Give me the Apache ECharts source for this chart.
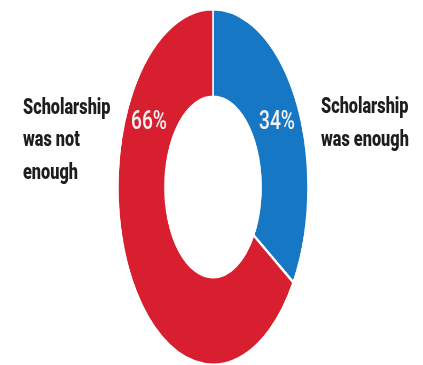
<!DOCTYPE html>
<html>
<head>
<meta charset="utf-8">
<script src="https://cdn.jsdelivr.net/npm/echarts@6/dist/echarts.min.js"></script>
<style>
  html, body { margin: 0; padding: 0; background: #ffffff; }
  #wrap { position: relative; width: 423px; height: 365px; overflow: hidden; }
  #ring { position: absolute; left: 0; top: 0; height: 365px; transform-origin: 0 0; }
  #labels { position: absolute; left: 0; top: 0; width: 423px; height: 365px; pointer-events: none; }
</style>
</head>
<body>
<div id="wrap">
  <div id="ring"></div>
  <div id="labels"></div>
</div>
<script>
// Survey answers, clockwise from 12 o'clock
const categories = ['Scholarship was enough', 'Scholarship was not enough'];
const values = [34, 66];
const categoryLines = [
  ['Scholarship', 'was enough'],
  ['Scholarship', 'was not', 'enough']
];

// The ring is drawn as an ellipse: the pie canvas is squeezed horizontally.
const SQUEEZE = 0.534;
const W = 423, H = 365;
const COLORS = ['#1677c4', '#d71f2f'];

const ringEl = document.getElementById('ring');
ringEl.style.width = (W / SQUEEZE) + 'px';
ringEl.style.transform = 'scaleX(' + SQUEEZE + ')';

const ring = echarts.init(ringEl, null, { renderer: 'canvas' });
ring.setOption({
  animation: false,
  backgroundColor: '#ffffff',
  series: [{
    type: 'pie',
    silent: true,
    center: [213 / SQUEEZE, 187],
    radius: [90, 178],
    startAngle: 90,
    clockwise: true,
    label: { show: false },
    labelLine: { show: false },
    itemStyle: { borderColor: '#ffffff', borderWidth: 3 },
    data: categories.map((name, i) => ({
      name: name,
      value: values[i],
      itemStyle: { color: COLORS[i] }
    }))
  }]
});

// Text layer
const total = values.reduce((a, b) => a + b, 0);
const pct = values.map(v => Math.round(v / total * 100) + '%');
const TEXT_SCALE = 0.74;
const graphics = [];

function addText(text, x, y, font, fill, align) {
  graphics.push({
    type: 'text',
    x: x, y: y,
    scaleX: TEXT_SCALE,
    silent: true,
    style: { text: text, font: font, fill: fill, align: align, verticalAlign: 'middle' }
  });
}

const NAME_FONT = '900 22px Roboto';
const PCT_FONT = '500 26px Roboto';
const LINE_GAP = 32.5;

// right-hand caption (first answer), left-hand caption (second answer)
categoryLines[0].forEach((t, j) => addText(t, 321, 107.5 + j * LINE_GAP, NAME_FONT, '#1f1c1d', 'left'));
categoryLines[1].forEach((t, j) => addText(t, 23, 108 + j * LINE_GAP, NAME_FONT, '#1f1c1d', 'left'));

addText(pct[0], 277, 122.5, PCT_FONT, '#f4f4f4', 'center');
addText(pct[1], 149, 122.5, PCT_FONT, '#f4f4f4', 'center');

const labels = echarts.init(document.getElementById('labels'), null, { renderer: 'canvas' });
labels.setOption({
  animation: false,
  graphic: { elements: graphics }
});
</script>
</body>
</html>
